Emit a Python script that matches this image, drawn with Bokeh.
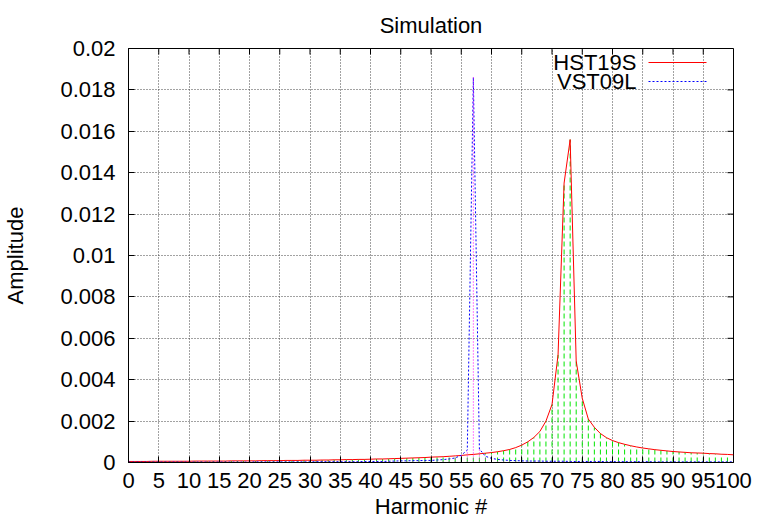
from bokeh.plotting import figure
from bokeh.models import (ColumnDataSource, Range1d, FixedTicker,
                          CustomJSTickFormatter, Label, Arrow)
from bokeh.embed import file_html
from bokeh.resources import INLINE

# ---------------- data ----------------
harmonics = list(range(0, 101))

hst19s = [
    0.00005, 0.00005, 0.00005, 0.00005, 0.00006, 0.00006, 0.00006, 0.00006, 0.00006, 0.00006,
    0.00006, 0.00007, 0.00007, 0.00007, 0.00007, 0.00007, 0.00007, 0.00008, 0.00008, 0.00008,
    0.00008, 0.00008, 0.00009, 0.00009, 0.00009, 0.00009, 0.00010, 0.00010, 0.00010, 0.00011,
    0.00011, 0.00011, 0.00012, 0.00012, 0.00013, 0.00013, 0.00014, 0.00014, 0.00015, 0.00015,
    0.00016, 0.00017, 0.00017, 0.00018, 0.00019, 0.00020, 0.00021, 0.00022, 0.00023, 0.00024,
    0.00026, 0.00027, 0.00028, 0.00030, 0.00032, 0.00034, 0.00037, 0.00039, 0.00042, 0.00045,
    0.00048, 0.00052, 0.00057, 0.00063, 0.00072, 0.00084, 0.00100, 0.00121, 0.00150, 0.00200,
    0.00280, 0.00520, 0.01350, 0.01560, 0.00490, 0.00310, 0.00210, 0.00170, 0.00140, 0.00120,
    0.00106, 0.00096, 0.00088, 0.00081, 0.00075, 0.00070, 0.00066, 0.00062, 0.00059, 0.00056,
    0.00053, 0.00051, 0.00049, 0.00047, 0.00046, 0.00045, 0.00043, 0.00042, 0.00040, 0.00039,
    0.00037,
]

vst09l = [
    0.00002, 0.00002, 0.00002, 0.00002, 0.00002, 0.00002, 0.00002, 0.00002, 0.00002, 0.00002,
    0.00002, 0.00002, 0.00002, 0.00002, 0.00002, 0.00002, 0.00002, 0.00002, 0.00002, 0.00002,
    0.00002, 0.00003, 0.00003, 0.00003, 0.00003, 0.00003, 0.00003, 0.00003, 0.00003, 0.00003,
    0.00003, 0.00004, 0.00004, 0.00004, 0.00004, 0.00004, 0.00004, 0.00004, 0.00004, 0.00005,
    0.00005, 0.00005, 0.00005, 0.00006, 0.00007, 0.00008, 0.00008, 0.00009, 0.00009, 0.00010,
    0.00010, 0.00012, 0.00014, 0.00017, 0.00022, 0.00035, 0.00060, 0.01860, 0.00065, 0.00030,
    0.00020, 0.00015, 0.00012, 0.00010, 0.00009, 0.00008, 0.00007, 0.00007, 0.00007, 0.00006,
    0.00006, 0.00006, 0.00006, 0.00005, 0.00005, 0.00005, 0.00005, 0.00005, 0.00005, 0.00004,
    0.00004, 0.00004, 0.00004, 0.00004, 0.00004, 0.00004, 0.00004, 0.00003, 0.00003, 0.00003,
    0.00003, 0.00003, 0.00003, 0.00003, 0.00003, 0.00003, 0.00003, 0.00003, 0.00003, 0.00003,
    0.00003,
]

x_ticks = [0, 5, 10, 15, 20, 25, 30, 35, 40, 45, 50, 55, 60, 65, 70, 75, 80, 85, 90, 95, 100]
y_ticks = [0, 0.002, 0.004, 0.006, 0.008, 0.01, 0.012, 0.014, 0.016, 0.018, 0.02]

title_text = "Simulation"
x_label = "Harmonic #"
y_label = "Amplitude"
series_names = ["HST19S", "VST09L"]

# ---------------- style / layout ----------------
FONT = "Liberation Sans"
FS = "22px"
W, H = 757, 528
BL, BR, BT, BB = 128, 24, 47, 66
FW, FH = W - BL - BR, H - BT - BB
XMIN, XMAX = x_ticks[0], x_ticks[-1]
YMIN, YMAX = y_ticks[0], y_ticks[-1]
TICK = 6

p = figure(width=W, height=H, output_backend="svg", toolbar_location=None, tools="",
           x_range=Range1d(XMIN, XMAX), y_range=Range1d(YMIN, YMAX),
           min_border_left=BL, min_border_right=BR, min_border_top=BT, min_border_bottom=BB)
p.background_fill_color = "white"
p.border_fill_color = "white"
p.outline_line_color = "black"
p.outline_line_width = 1

p.title.text = title_text
p.title.align = "center"
p.title.text_font = FONT
p.title.text_font_size = FS
p.title.text_font_style = "normal"
p.title.text_color = "black"
p.title.standoff = 21

xt = FixedTicker(ticks=x_ticks)
yt = FixedTicker(ticks=y_ticks)
yfmt = CustomJSTickFormatter(code="return (Math.round(tick*1000)/1000).toString();")

p.xaxis.ticker = xt
p.xaxis.axis_label = x_label
p.yaxis.ticker = yt
p.yaxis.formatter = yfmt
p.yaxis.axis_label = y_label

for ax in list(p.xaxis) + list(p.yaxis):
    ax.major_tick_in = TICK
    ax.major_tick_out = 0
    ax.minor_tick_line_color = None
    ax.axis_line_color = "black"
    ax.major_tick_line_color = "black"
    ax.major_label_text_font = FONT
    ax.major_label_text_font_size = FS
    ax.major_label_text_color = "black"
    ax.axis_label_text_font = FONT
    ax.axis_label_text_font_size = FS
    ax.axis_label_text_font_style = "normal"
    ax.axis_label_text_color = "black"

p.yaxis.major_label_standoff = 13
p.xaxis.major_label_standoff = 10
p.yaxis.axis_label_standoff = 29
p.xaxis.axis_label_standoff = 3

p.xgrid.ticker = xt
p.ygrid.ticker = yt
for g in (p.xgrid, p.ygrid):
    g.grid_line_color = "#444444"
    g.grid_line_dash = "1 2"
    g.grid_line_width = 1

# mirrored inward ticks on the top and right borders (gnuplot style)
dy = TICK * (YMAX - YMIN) / FH
dx = TICK * (XMAX - XMIN) / FW
p.segment(x0=x_ticks, y0=[YMAX] * len(x_ticks), x1=x_ticks, y1=[YMAX - dy] * len(x_ticks),
          line_color="black", line_width=1)
p.segment(x0=[XMAX] * len(y_ticks), y0=y_ticks, x1=[XMAX - dx] * len(y_ticks), y1=y_ticks,
          line_color="black", line_width=1)

src = ColumnDataSource(dict(h=harmonics, hst=hst19s, vst=vst09l, zero=[0] * len(harmonics)))

p.segment(x0="h", y0="zero", x1="h", y1="hst", source=src,
          line_color="#00e600", line_width=1, line_dash="5 3")
p.line(x="h", y="hst", source=src, line_color="#ff0000", line_width=1)
p.line(x="h", y="vst", source=src, line_color="#0000ff", line_width=1, line_dash="2 2")
p.segment(x0="h", y0="zero", x1="h", y1="vst", source=src,
          line_color="#ff00ff", line_width=1, line_dash="1 2")

# legend (gnuplot style: label then sample), in screen units relative to the frame
leg_colors = ["#ff0000", "#0000ff"]
leg_dash = ["solid", "2 2"]
leg_y = [FH - 15, FH - 34]
for name, c, d, yy in zip(series_names, leg_colors, leg_dash, leg_y):
    p.add_layout(Label(x=FW - 97, y=yy, x_units="screen", y_units="screen", text=name,
                       text_align="right", text_baseline="middle",
                       text_font=FONT, text_font_size=FS, text_color="black"))
    p.add_layout(Arrow(x_start=FW - 85, y_start=yy, x_end=FW - 27, y_end=yy,
                       start_units="screen", end_units="screen", start=None, end=None,
                       line_color=c, line_width=1, line_dash=d))

open("out.html", "w").write(file_html(p, INLINE))
